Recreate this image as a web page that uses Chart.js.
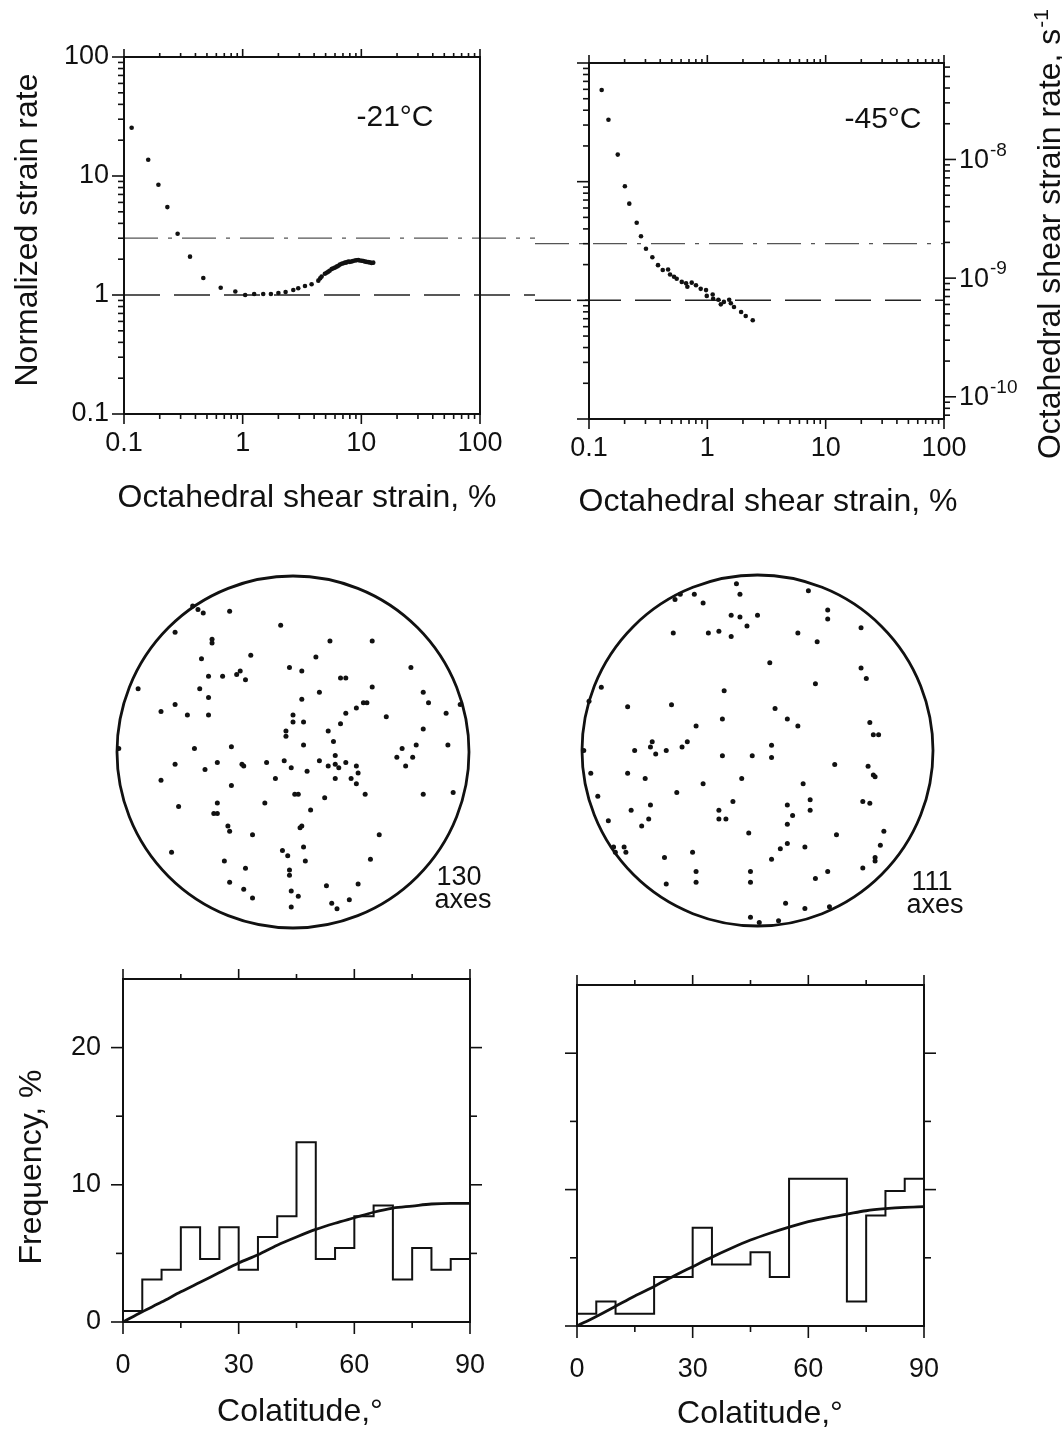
<!DOCTYPE html>
<html>
<head>
<meta charset="utf-8">
<script src="https://cdn.jsdelivr.net/npm/chart.js@4.4.0/dist/chart.umd.min.js"></script>
<style>
  html, body { margin: 0; padding: 0; background: #fff; }
  body { position: relative; width: 1062px; height: 1434px; overflow: hidden; }
  canvas { position: absolute; }
</style>
</head>
<body>
<canvas id="creep21"></canvas>
<canvas id="creep45"></canvas>
<canvas id="net21"></canvas>
<canvas id="net45"></canvas>
<canvas id="hist21"></canvas>
<canvas id="hist45"></canvas>
<script>
// ---- creep curves (octahedral shear strain %, normalized strain rate) ----
const strain21 = [0.116, 0.160, 0.195, 0.232, 0.283, 0.360, 0.466, 0.653, 0.867, 1.05, 1.25, 1.49, 1.73, 2.00, 2.30, 2.67, 2.94, 3.35, 3.81, 4.34, 4.50, 4.63, 4.93, 5.10, 5.26, 5.40, 5.62, 5.80, 6.00, 6.20, 6.40, 6.60, 6.83, 7.05, 7.28, 7.50, 7.77, 8.00, 8.28, 8.50, 8.83, 9.10, 9.42, 9.70, 10.1, 10.4, 10.7, 11.0, 11.4, 11.8, 12.2, 12.6];
const rate21 = [25.4, 13.7, 8.45, 5.48, 3.27, 2.10, 1.39, 1.15, 1.07, 1.00, 1.02, 1.02, 1.02, 1.04, 1.06, 1.10, 1.14, 1.19, 1.23, 1.32, 1.38, 1.43, 1.51, 1.54, 1.57, 1.60, 1.65, 1.68, 1.70, 1.73, 1.76, 1.80, 1.83, 1.85, 1.87, 1.88, 1.91, 1.90, 1.91, 1.93, 1.95, 1.96, 1.97, 1.95, 1.94, 1.93, 1.91, 1.90, 1.89, 1.88, 1.86, 1.87];
const strain45 = [0.128, 0.146, 0.175, 0.201, 0.219, 0.253, 0.275, 0.303, 0.343, 0.383, 0.420, 0.466, 0.484, 0.523, 0.551, 0.608, 0.661, 0.678, 0.738, 0.802, 0.879, 0.975, 0.989, 1.11, 1.12, 1.24, 1.30, 1.38, 1.53, 1.58, 1.68, 1.93, 2.11, 2.42];
const rate45 = [59.3, 33.2, 16.9, 9.14, 6.53, 4.50, 3.47, 2.72, 2.31, 1.98, 1.80, 1.82, 1.65, 1.58, 1.52, 1.43, 1.39, 1.30, 1.41, 1.34, 1.25, 1.22, 1.09, 1.12, 1.03, 1.01, 0.925, 0.97, 1.01, 0.944, 0.879, 0.798, 0.738, 0.679];
const refLevels = [3, 1];              // dash-dot and dashed guide lines
const decadeLabels = [0.1, 1, 10, 100];
const rateLabels = [1e-8, 1e-9, 1e-10];
const rateMin = 6.5e-11, rateMax = 6.5e-8;   // right axis range, s^-1

// ---- c-axis fabrics (position in % of net radius) ----
const net21X = [-57, -54, -51, -36, -67, -7, -46, -46, 21, 45, -52, -24, 13, -2, 5, -30, -32, -48, -40, -27, 27, 30, 67, -88, -53, 15, 45, -48, 74, 5, 77, 95, 40, 42, 36, -67, -75, -60, -48, 30, 53, 87, 0, 0, 6, 27, 74, -4, -4, 20, 23, 6, 70, 88, 62, -35, -56, 59, 68, 64, 24, 15, -5, -15, -67, -43, -28, -29, -1, 8, 20, 24, 26, 30, 36, 37, -50, -75, -10, 24, 33, 36, -35, 1, 3, 18, 41, 74, 91, -65, -43, -16, -45, -43, 10, -37, -36, -23, 4, 5, 49, -69, -6, 6, -3, -39, 7, 44, -27, -2, -2, -36, -28, -23, -1, 3, -1, 19, 37, 22, 25, 32, -99];
const net21Y = [83, 81, 79, 80, 68, 72, 64, 62, 63, 63, 53, 55, 54, 48, 46, 46, 44, 43, 43, 41, 42, 42, 48, 36, 36, 34, 37, 31, 34, 30, 28, 27, 28, 28, 25, 27, 23, 21, 21, 22, 20, 22, 21, 17, 17, 16, 13, 12, 9, 12, 6, 4, 4, 4, 2, 3, 2, -3, -3, -8, -2, -5, -5, -6, -7, -6, -8, -7, -9, -11, -8, -7, -9, -6, -8, -12, -10, -16, -15, -15, -15, -18, -19, -24, -24, -26, -24, -24, -23, -31, -29, -29, -35, -35, -33, -42, -45, -47, -43, -42, -47, -57, -56, -54, -59, -62, -62, -61, -66, -67, -70, -74, -78, -83, -79, -82, -88, -76, -75, -86, -89, -84, 2];
const net45X = [-12, -10, 29, -47, -44, -36, -31, -15, -10, 0, -6, 40, 40, 59, -48, -28, -22, -15, 23, 34, 7, 59, 62, 33, -89, -19, -96, -74, -49, 10, 17, 23, -20, -35, 64, 66, 69, -60, -61, -70, -58, -52, -43, -40, 8, 8, -20, -3, -99, -95, -74, -64, 44, 63, 66, 67, -9, -31, 26, -46, -91, -61, -72, -14, -22, -22, -18, 17, 30, 30, 20, 17, 60, 64, -85, -62, -66, -5, 45, 72, 70, 67, 67, -82, -76, -75, -81, 17, 13, 27, -37, -53, 8, -35, -35, -4, -4, -52, 40, 33, 60, 16, 27, -4, 1, 12, 41];
const net45Y = [95, 89, 91, 86, 89, 89, 84, 77, 76, 77, 71, 80, 75, 70, 67, 67, 68, 65, 67, 62, 50, 47, 41, 38, 36, 34, 28, 25, 26, 24, 18, 14, 18, 14, 16, 9, 9, 5, 2, 0, -2, 0, 2, 5, 3, -4, -3, -3, 0, -13, -13, -16, -8, -9, -14, -15, -16, -19, -19, -24, -26, -31, -34, -29, -34, -39, -39, -31, -28, -34, -37, -42, -29, -30, -40, -39, -43, -47, -48, -46, -54, -61, -63, -55, -55, -58, -58, -53, -56, -55, -58, -61, -62, -69, -75, -69, -75, -76, -69, -73, -67, -87, -90, -95, -98, -97, -89];

// ---- colatitude histograms (5 degree bins, frequency %) ----
const binEdges = [0, 5, 10, 15, 20, 25, 30, 35, 40, 45, 50, 55, 60, 65, 70, 75, 80, 85, 90];
const freq21 = [0.8, 3.1, 3.8, 6.9, 4.6, 6.9, 3.8, 6.2, 7.7, 13.1, 4.6, 5.4, 7.7, 8.5, 3.1, 5.4, 3.8, 4.6];
const freq45 = [0.9, 1.8, 0.9, 0.9, 3.6, 3.6, 7.2, 4.5, 4.5, 5.4, 3.6, 10.8, 10.8, 10.8, 1.8, 8.1, 9.9, 10.8];
const uniform21 = [0, 0.75, 1.45, 2.2, 2.9, 3.6, 4.3, 4.9, 5.6, 6.2, 6.75, 7.2, 7.6, 8.0, 8.3, 8.45, 8.6, 8.65, 8.65];
const uniform45 = [0, 0.7, 1.45, 2.2, 2.9, 3.65, 4.35, 5.05, 5.7, 6.3, 6.8, 7.25, 7.65, 7.95, 8.2, 8.45, 8.6, 8.7, 8.75];
const colatLabels = [0, 30, 60, 90];
const freqLabels = [0, 10, 20];
const freqMax = 25;

const FONT = "'Liberation Sans', Arial, Helvetica, sans-serif";
const INK = '#111';

function place(id, area, pad) {
  const c = document.getElementById(id);
  const w = area.w + pad.l + pad.r, h = area.h + pad.t + pad.b;
  c.width = w; c.height = h;
  c.style.left = (area.x - pad.l) + 'px';
  c.style.top = (area.y - pad.t) + 'px';
  c.style.width = w + 'px'; c.style.height = h + 'px';
  return c;
}

function logMarks(lo, hi, min, max) {
  const out = [];
  for (let e = lo; e < hi; e++) {
    for (let m = 1; m < 10; m++) out.push({ v: m * Math.pow(10, e), major: m === 1 });
  }
  out.push({ v: Math.pow(10, hi), major: true });
  return out.filter(t => t.v >= min * 0.999 && t.v <= max * 1.001);
}

function linMarks(vals, every) {
  return vals.map(v => ({ v, major: v % every === 0 }));
}

// axis boxes get a fixed size (and no label overhang) so the plot area lands where it should
const fitTo = size => s => {
  if (s.isHorizontal()) s.height = size; else s.width = size;
  s.paddingTop = 0; s.paddingBottom = 0; s.paddingLeft = 0; s.paddingRight = 0;
};

// frame + outward tick marks
const axesInk = {
  id: 'axesInk',
  afterDatasetsDraw(chart, args, opts) {
    const { ctx, chartArea: a } = chart;
    ctx.save();
    ctx.strokeStyle = INK;
    ctx.lineWidth = opts.frameWidth || 2;
    ctx.strokeRect(a.left, a.top, a.right - a.left, a.bottom - a.top);
    ctx.lineWidth = 1.6;
    (opts.marks || []).forEach(m => {
      const s = chart.scales[m.axis];
      m.ticks.forEach(t => {
        const p = s.getPixelForValue(t.v);
        const len = t.major ? m.major : m.minor;
        ctx.beginPath();
        if (m.side === 'left') { ctx.moveTo(a.left, p); ctx.lineTo(a.left - len, p); }
        else if (m.side === 'right') { ctx.moveTo(a.right, p); ctx.lineTo(a.right + len, p); }
        else if (m.side === 'top') { ctx.moveTo(p, a.top); ctx.lineTo(p, a.top - len); }
        else { ctx.moveTo(p, a.bottom); ctx.lineTo(p, a.bottom + len); }
        ctx.stroke();
      });
    });
    ctx.restore();
  }
};

// horizontal guide lines that run across the gap between the two upper panels
const refLines = {
  id: 'refLines',
  beforeDatasetsDraw(chart, args, opts) {
    const { ctx, chartArea: a } = chart;
    const y = chart.scales.y;
    opts.lines.forEach(l => {
      const p = y.getPixelForValue(l.value);
      ctx.save();
      ctx.setLineDash(l.dash);
      ctx.strokeStyle = l.color;
      ctx.lineWidth = l.width;
      ctx.beginPath();
      ctx.moveTo(opts.fromEdge ? 0 : a.left, p);
      ctx.lineTo(opts.toEdge ? chart.width : a.right, p);
      ctx.stroke();
      ctx.restore();
    });
  }
};

// text given in page coordinates (optionally rotated, with a superscript tail)
const pageText = {
  id: 'pageText',
  afterDraw(chart, args, opts) {
    const ctx = chart.ctx, c = chart.canvas;
    (opts.items || []).forEach(it => {
      ctx.save();
      ctx.translate(it.x - c.offsetLeft, it.y - c.offsetTop);
      if (it.rotate) ctx.rotate(it.rotate);
      ctx.fillStyle = INK;
      ctx.textBaseline = it.baseline || 'middle';
      ctx.font = it.font;
      const w1 = ctx.measureText(it.text).width;
      let w2 = 0;
      if (it.sup) { ctx.font = it.supFont; w2 = ctx.measureText(it.sup).width + 1; ctx.font = it.font; }
      const align = it.align || 'center';
      const x0 = align === 'center' ? -(w1 + w2) / 2 : align === 'right' ? -(w1 + w2) : 0;
      ctx.textAlign = 'left';
      ctx.fillText(it.text, x0, 0);
      if (it.sup) { ctx.font = it.supFont; ctx.fillText(it.sup, x0 + w1 + 1, -it.supRise); }
      ctx.restore();
    });
  }
};

// right-hand strain-rate axis labels (10 with superscript exponent)
const rateAxis = {
  id: 'rateAxis',
  afterDraw(chart) {
    const { ctx, chartArea: a } = chart;
    const s = chart.scales.y2;
    ctx.save();
    ctx.fillStyle = INK;
    ctx.textAlign = 'left';
    ctx.textBaseline = 'middle';
    rateLabels.forEach(v => {
      const p = s.getPixelForValue(v);
      ctx.font = `27px ${FONT}`;
      const x = a.right + 15;
      ctx.fillText('10', x, p + 1);
      const w = ctx.measureText('10').width;
      ctx.font = `19px ${FONT}`;
      ctx.fillText(String(Math.round(Math.log10(v))), x + w + 1, p - 9);
    });
    ctx.restore();
  }
};

// the net circle
const netCircle = {
  id: 'netCircle',
  beforeDatasetsDraw(chart) {
    const { ctx } = chart;
    const x = chart.scales.x, y = chart.scales.y;
    const cx = x.getPixelForValue(0), cy = y.getPixelForValue(0);
    const r = x.getPixelForValue(100) - cx;
    ctx.save();
    ctx.strokeStyle = INK;
    ctx.lineWidth = 2.8;
    ctx.beginPath();
    ctx.arc(cx, cy, r, 0, Math.PI * 2);
    ctx.stroke();
    ctx.restore();
  }
};

const tickFont = { family: FONT, size: 27 };
const titleFont = `32px ${FONT}`;

function logAxis(size, tickOpts) {
  return {
    type: 'logarithmic', min: 0.1, max: 100,
    afterFit: fitTo(size),
    afterBuildTicks: s => { s.ticks = decadeLabels.map(v => ({ value: v })); },
    grid: { display: false, drawTicks: false },
    border: { display: false },
    ticks: Object.assign({ font: tickFont, color: INK, autoSkip: false, maxRotation: 0, callback: v => String(v) }, tickOpts)
  };
}

function creepChart(id, area, pad, xs, ys, opts) {
  const cv = place(id, area, pad);
  const scales = {
    x: logAxis(pad.b, { padding: 13 }),
    y: logAxis(pad.l, { display: opts.yLabels, padding: 15 })
  };
  const marks = [
    { axis: 'x', side: 'bottom', ticks: logMarks(-1, 2, 0.1, 100), major: 10, minor: 5 },
    { axis: 'x', side: 'top', ticks: logMarks(-1, 2, 0.1, 100), major: 8, minor: 4 },
    { axis: 'y', side: 'left', ticks: logMarks(-1, 2, 0.1, 100), major: 12, minor: 6 }
  ];
  const plugins = [refLines, axesInk, pageText];
  if (opts.rate) {
    scales.y2 = {
      type: 'logarithmic', position: 'right', min: rateMin, max: rateMax,
      afterFit: fitTo(0), grid: { display: false, drawTicks: false }, border: { display: false },
      ticks: { display: false }
    };
    marks.push({ axis: 'y2', side: 'right', ticks: logMarks(-11, -7, rateMin, rateMax), major: 12, minor: 6 });
    plugins.push(rateAxis);
  }
  return new Chart(cv, {
    type: 'scatter',
    data: { datasets: [{ data: xs.map((x, i) => ({ x, y: ys[i] })), pointRadius: 2.3, pointBackgroundColor: INK, pointBorderWidth: 0 }] },
    options: {
      responsive: false, animation: false, devicePixelRatio: 1,
      layout: { padding: { left: 0, right: pad.r, top: pad.t, bottom: 0 } },
      scales,
      plugins: {
        legend: { display: false }, tooltip: { enabled: false },
        refLines: {
          fromEdge: opts.fromEdge, toEdge: opts.toEdge,
          lines: [
            { value: refLevels[0], dash: [34, 10, 4, 10], color: '#555', width: 1.3 },
            { value: refLevels[1], dash: [36, 14], color: '#222', width: 1.5 }
          ]
        },
        axesInk: { marks },
        pageText: { items: opts.texts }
      }
    },
    plugins
  });
}

creepChart('creep21', { x: 124, y: 57, w: 356, h: 357 }, { l: 124, t: 40, r: 55, b: 110 }, strain21, rate21, {
  yLabels: true, toEdge: true,
  texts: [
    { text: '-21°C', x: 395, y: 118, font: `30px ${FONT}` },
    { text: 'Normalized strain rate', x: 37, y: 230, rotate: -Math.PI / 2, baseline: 'alphabetic', font: titleFont },
    { text: 'Octahedral shear strain, %', x: 307, y: 498, font: titleFont }
  ]
});

creepChart('creep45', { x: 589, y: 63, w: 355, h: 356 }, { l: 54, t: 63, r: 118, b: 110 }, strain45, rate45, {
  yLabels: false, fromEdge: true, rate: true,
  texts: [
    { text: '-45°C', x: 883, y: 120, font: `30px ${FONT}` },
    { text: 'Octahedral shear strain, %', x: 768, y: 502, font: titleFont },
    { text: 'Octahedral shear strain rate, s', x: 1060, y: 234, rotate: -Math.PI / 2, baseline: 'alphabetic', font: titleFont,
      sup: '-1', supFont: `21px ${FONT}`, supRise: 12 }
  ]
});

function netChart(id, area, xs, ys, texts) {
  const cv = place(id, area, { l: 10, t: 10, r: 50, b: 10 });
  return new Chart(cv, {
    type: 'scatter',
    data: { datasets: [{ data: xs.map((x, i) => ({ x, y: ys[i] })), pointRadius: 2.5, pointBackgroundColor: INK, pointBorderWidth: 0 }] },
    options: {
      responsive: false, animation: false, devicePixelRatio: 1,
      layout: { padding: { left: 10, right: 50, top: 10, bottom: 10 } },
      scales: {
        x: { type: 'linear', min: -100, max: 100, display: false },
        y: { type: 'linear', min: -100, max: 100, display: false }
      },
      plugins: { legend: { display: false }, tooltip: { enabled: false }, pageText: { items: texts } }
    },
    plugins: [netCircle, pageText]
  });
}

netChart('net21', { x: 117, y: 576, w: 352, h: 352 }, net21X, net21Y, [
  { text: '130', x: 459, y: 885, baseline: 'alphabetic', font: `27px ${FONT}` },
  { text: 'axes', x: 463, y: 908, baseline: 'alphabetic', font: `27px ${FONT}` }
]);
netChart('net45', { x: 582, y: 575, w: 351, h: 351 }, net45X, net45Y, [
  { text: '111', x: 932, y: 890, baseline: 'alphabetic', font: `27px ${FONT}` },
  { text: 'axes', x: 935, y: 913, baseline: 'alphabetic', font: `27px ${FONT}` }
]);

function histChart(id, area, pad, freq, uniform, opts) {
  const cv = place(id, area, pad);
  const steps = binEdges.slice(0, -1).map((e, i) => ({ x: e, y: freq[i] }));
  steps.push({ x: binEdges[binEdges.length - 1], y: freq[freq.length - 1] });
  const curve = binEdges.map((e, i) => ({ x: e, y: uniform[i] }));
  return new Chart(cv, {
    type: 'line',
    data: {
      datasets: [
        { data: steps, stepped: true, borderColor: INK, borderWidth: 2, pointRadius: 0, fill: false },
        { data: curve, cubicInterpolationMode: 'monotone', borderColor: INK, borderWidth: 2.8, pointRadius: 0, fill: false }
      ]
    },
    options: {
      responsive: false, animation: false, devicePixelRatio: 1,
      layout: { padding: { left: 0, right: pad.r, top: pad.t, bottom: 0 } },
      scales: {
        x: {
          type: 'linear', min: 0, max: 90, afterFit: fitTo(pad.b),
          afterBuildTicks: s => { s.ticks = colatLabels.map(v => ({ value: v })); },
          grid: { display: false, drawTicks: false }, border: { display: false },
          ticks: { font: tickFont, color: INK, autoSkip: false, maxRotation: 0, padding: 27 }
        },
        y: {
          type: 'linear', min: 0, max: freqMax, afterFit: fitTo(pad.l),
          afterBuildTicks: s => { s.ticks = freqLabels.map(v => ({ value: v })); },
          grid: { display: false, drawTicks: false }, border: { display: false },
          ticks: { display: opts.yLabels, font: tickFont, color: INK, autoSkip: false, padding: 22 }
        }
      },
      plugins: {
        legend: { display: false }, tooltip: { enabled: false },
        axesInk: {
          marks: [
            { axis: 'x', side: 'bottom', ticks: linMarks([0, 15, 30, 45, 60, 75, 90], 30), major: 12, minor: 6 },
            { axis: 'x', side: 'top', ticks: linMarks([0, 15, 30, 45, 60, 75, 90], 30), major: 10, minor: 5 },
            { axis: 'y', side: 'left', ticks: linMarks([0, 5, 10, 15, 20], 10), major: 12, minor: 7 },
            { axis: 'y', side: 'right', ticks: linMarks([5, 10, 15, 20], 10), major: 12, minor: 7 }
          ]
        },
        pageText: { items: opts.texts }
      }
    },
    plugins: [axesInk, pageText]
  });
}

histChart('hist21', { x: 123, y: 979, w: 347, h: 343 }, { l: 123, t: 19, r: 40, b: 112 }, freq21, uniform21, {
  yLabels: true,
  texts: [
    { text: 'Frequency, %', x: 41, y: 1167, rotate: -Math.PI / 2, baseline: 'alphabetic', font: titleFont },
    { text: 'Colatitude,°', x: 300, y: 1412, font: titleFont }
  ]
});
histChart('hist45', { x: 577, y: 985, w: 347, h: 341 }, { l: 37, t: 25, r: 50, b: 108 }, freq45, uniform45, {
  yLabels: false,
  texts: [
    { text: 'Colatitude,°', x: 760, y: 1414, font: titleFont }
  ]
});
</script>
</body>
</html>
